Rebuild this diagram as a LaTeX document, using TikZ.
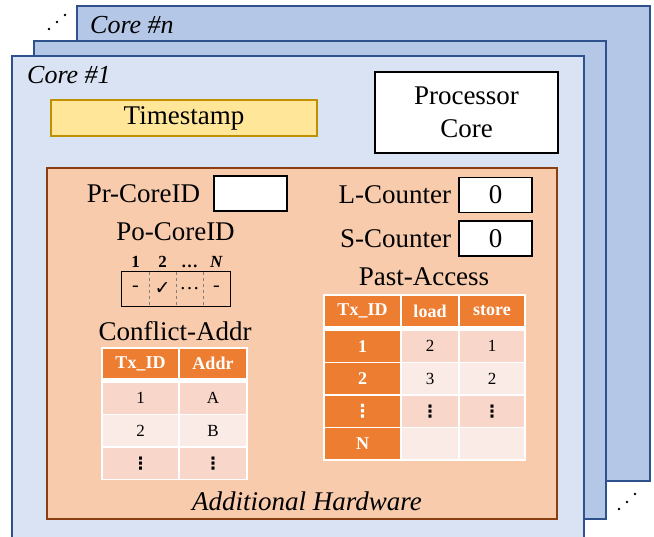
\documentclass[tikz,border=0pt]{standalone}
\usepackage{fontspec}
\setmainfont{Liberation Serif}
\newfontfamily\symfont{DejaVu Sans}
\usetikzlibrary{positioning}
\definecolor{corebk}{HTML}{B4C7E7}
\definecolor{corefr}{HTML}{DAE3F3}
\definecolor{coreln}{HTML}{2F528F}
\definecolor{tsfill}{HTML}{FFE699}
\definecolor{tsline}{HTML}{BF9000}
\definecolor{hwfill}{HTML}{F8CBAD}
\definecolor{hwline}{HTML}{8B3E12}
\definecolor{tbhead}{HTML}{ED7D31}
\definecolor{tbdark}{HTML}{F8D6CA}
\definecolor{tblight}{HTML}{FBEBE6}
\newcommand{\vdts}{{\symfont\bfseries ⋮}}

\begin{document}
\begin{tikzpicture}[x=1pt,y=-1pt,font=\fontsize{27}{33}\selectfont,
    panel/.style={draw=coreln,line width=1.2pt},
    lbl/.style={inner sep=0pt},
    corelabel/.style={inner sep=0pt,anchor=west,font=\fontsize{26}{30}\selectfont\itshape},
    regbox/.style={draw,fill=white,line width=1.2pt,minimum width=73,minimum height=35,inner sep=0pt},
    pcell/.style={inner sep=0pt,minimum width=27,minimum height=34,font=\fontsize{20}{22}\selectfont},
    numlbl/.style={inner sep=0pt,font=\fontsize{17}{19}\selectfont\bfseries},
    cell/.style={draw=white,line width=1.5pt,inner sep=0pt,font=\fontsize{17}{20}\selectfont},
    hcell/.style={cell,fill=tbhead,text=white,font=\fontsize{18}{20}\selectfont\bfseries}]
  \clip (0,0) rectangle (654,537);
  % stacked core frames, back to front
  \draw[panel,fill=corebk] (77,6) rectangle (650,481);
  \draw[panel,fill=corebk] (34,41) rectangle (606,519);
  \draw[panel,fill=corefr] (12,56) rectangle (584,560);
  % continuation dots
  \foreach \p in {(49,29),(57,22),(65,15),(619,509),(627,502),(635,494)}
    \fill \p circle (1.3);
  \node[corelabel] (coren) at (90,25) {Core \#n};
  \node[corelabel] (core1) at (27,75) {Core \#1};

  \node[draw=tsline,fill=tsfill,line width=1.2pt,minimum width=266,minimum height=36] (ts) at (184,118) {Timestamp};
  \node[draw,fill=white,line width=1.2pt,minimum width=183,minimum height=81,align=center] (proc) at (466.5,112.5) {Processor\\Core};

  % additional hardware block
  \node[draw=hwline,fill=hwfill,line width=1.2pt,minimum width=510,minimum height=351,inner sep=0pt] (hw) at (302,343.5) {};
  \node[lbl,font=\fontsize{27}{33}\selectfont\itshape] (hwlbl) at (307,501) {Additional Hardware};

  % registers
  \node[regbox] (prreg) at (250.5,193.5) {};
  \node[lbl,left=13pt of prreg] (prlbl) {Pr-CoreID};
  \node[regbox] (lreg) at (495.5,195) {0};
  \node[lbl,left=7pt of lreg] (llbl) {L-Counter};
  \node[regbox] (sreg) at (495.5,238.5) {0};
  \node[lbl,left=7pt of sreg] (slbl) {S-Counter};

  % Po-CoreID bit vector
  \node[lbl] (polbl) at (175.5,232) {Po-CoreID};
  \foreach \t [count=\i] in {-,{\symfont\fontsize{19}{22}\selectfont ✓},{\ldots},-}
    \node[pcell] (pc\i) at (108.5+27*\i,289) {\t};
  \draw[line width=1.2pt] (pc1.north west) rectangle (pc4.south east);
  \foreach \i in {1,2,3}
    \draw[dashed,gray,line width=0.6pt] (pc\i.north east) -- (pc\i.south east);
  \foreach \t [count=\i] in {1,2,{\ldots},{\textit{N}}}
    \node[numlbl,above=4pt of pc\i] (pn\i) {\t};

  % Past-Access table
  \node[lbl] (palbl) at (424,277) {Past-Access};
  \fill[white] (323,294) rectangle (526,461);
  \foreach \t/\x/\w [count=\c] in {Tx\_ID/362.5/77,load/430/58,store/492/66}
    \node[hcell,minimum width=\w,minimum height=32] (pah\c) at (\x,311) {\t};
  \foreach \a/\b/\d/\r/\y [count=\j] in {1/2/1/tbdark/346.25,2/3/2/tblight/378.75,
      {\vdts}/{\vdts}/{\vdts}/tbdark/411.25,N/{}/{}/tblight/443.75} {
    \node[hcell,minimum width=77,minimum height=32.5] (pa\j-1) at (362.5,\y) {\a};
    \node[cell,fill=\r,minimum width=58,minimum height=32.5] (pa\j-2) at (430,\y) {\b};
    \node[cell,fill=\r,minimum width=66,minimum height=32.5] (pa\j-3) at (492,\y) {\d};
  }

  % Conflict-Addr table
  \node[lbl] (calbl) at (175,331) {Conflict-Addr};
  \fill[white] (101,347) rectangle (248,480);
  \node[hcell,minimum width=77,minimum height=31] (cah1) at (140.5,363.5) {Tx\_ID};
  \node[hcell,minimum width=68,minimum height=31] (cah2) at (213,363.5) {Addr};
  \foreach \a/\b/\r/\y [count=\j] in {1/A/tbdark/398.25,2/B/tblight/430.75,
      {\vdts}/{\vdts}/tbdark/463.25} {
    \node[cell,fill=\r,minimum width=77,minimum height=32.5] (ca\j-1) at (140.5,\y) {\a};
    \node[cell,fill=\r,minimum width=68,minimum height=32.5] (ca\j-2) at (213,\y) {\b};
  }
\end{tikzpicture}
\end{document}
